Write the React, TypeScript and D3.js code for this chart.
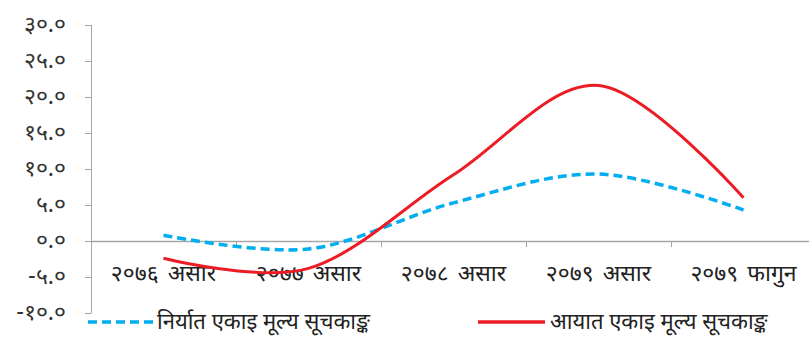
import React from "react";
import * as d3 from "d3";

const categories = ["२०७६ असार", "२०७७ असार", "२०७८ असार", "२०७९ असार", "२०७९ फागुन"];
const exportIndex = [0.8, -1.1, 5.3, 9.3, 4.3];
const importIndex = [-2.4, -3.8, 9.2, 21.6, 6.0];
const yTicks = [30, 25, 20, 15, 10, 5, 0, -5, -10];
const yTickLabels = ["३०.०", "२५.०", "२०.०", "१५.०", "१०.०", "५.०", "०.०", "-५.०", "-१०.०"];
const seriesNames = ["निर्यात एकाइ मूल्य सूचकाङ्क", "आयात एकाइ मूल्य सूचकाङ्क"];

const W = 809;
const H = 357;
const FONT = "'Noto Sans Devanagari', 'Lohit Devanagari', 'Noto Sans', sans-serif";

export default function App() {
  const x = d3.scaleBand<string>().domain(categories).range([91, 816]).padding(0);
  const y = d3.scaleLinear().domain([-10, 30]).range([313, 25]);
  const cx = (c: string) => (x(c) as number) + x.bandwidth() / 2;

  const line = d3
    .line<number>()
    .x((_, i) => cx(categories[i]))
    .y((d) => y(d))
    .curve(d3.curveCardinal.tension(0));

  const axisColor = "#a6a6a6";
  const blue = "#00AEEF";
  const red = "#ED1C24";

  return (
    <svg
      width={W}
      height={H}
      style={{ position: "fixed", left: 0, top: 0, background: "#fff" }}
      fontFamily={FONT}
    >
      {/* y axis */}
      <line x1={91.5} x2={91.5} y1={y(30)} y2={y(-10)} stroke={axisColor} strokeWidth={1} />
      {yTicks.map((t, i) => (
        <g key={t}>
          <line x1={85} x2={91.5} y1={Math.round(y(t)) + 0.5} y2={Math.round(y(t)) + 0.5} stroke={axisColor} />
          <text x={66} y={y(t)} dy="0.32em" textAnchor="end" fontSize={23} fill="#333">
            {yTickLabels[i]}
          </text>
        </g>
      ))}
      {/* x axis at zero */}
      <line x1={91} x2={W} y1={Math.round(y(0)) + 0.5} y2={Math.round(y(0)) + 0.5} stroke={axisColor} strokeWidth={1.5} />
      {categories.slice(1).map((c) => (
        <line
          key={c}
          x1={Math.round(x(c) as number) + 0.5}
          x2={Math.round(x(c) as number) + 0.5}
          y1={y(0)}
          y2={y(0) + 6}
          stroke={axisColor}
        />
      ))}
      {categories.map((c) => (
        <text key={c} x={cx(c)} y={281} textAnchor="middle" fontSize={23} fill="#222" wordSpacing={3}>
          {c}
        </text>
      ))}
      {/* series */}
      <path d={line(exportIndex) || ""} fill="none" stroke={blue} strokeWidth={3.5} strokeDasharray="9,5" />
      <path d={line(importIndex) || ""} fill="none" stroke={red} strokeWidth={3} />
      {/* legend */}
      <line x1={88} x2={153} y1={322} y2={322} stroke={blue} strokeWidth={3.5} strokeDasharray="9,5" />
      <text x={157} y={329} fontSize={22} fill="#222">
        {seriesNames[0]}
      </text>
      <line x1={478} x2={545} y1={322} y2={322} stroke={red} strokeWidth={3.5} />
      <text x={550} y={329} fontSize={22} fill="#222">
        {seriesNames[1]}
      </text>
    </svg>
  );
}
